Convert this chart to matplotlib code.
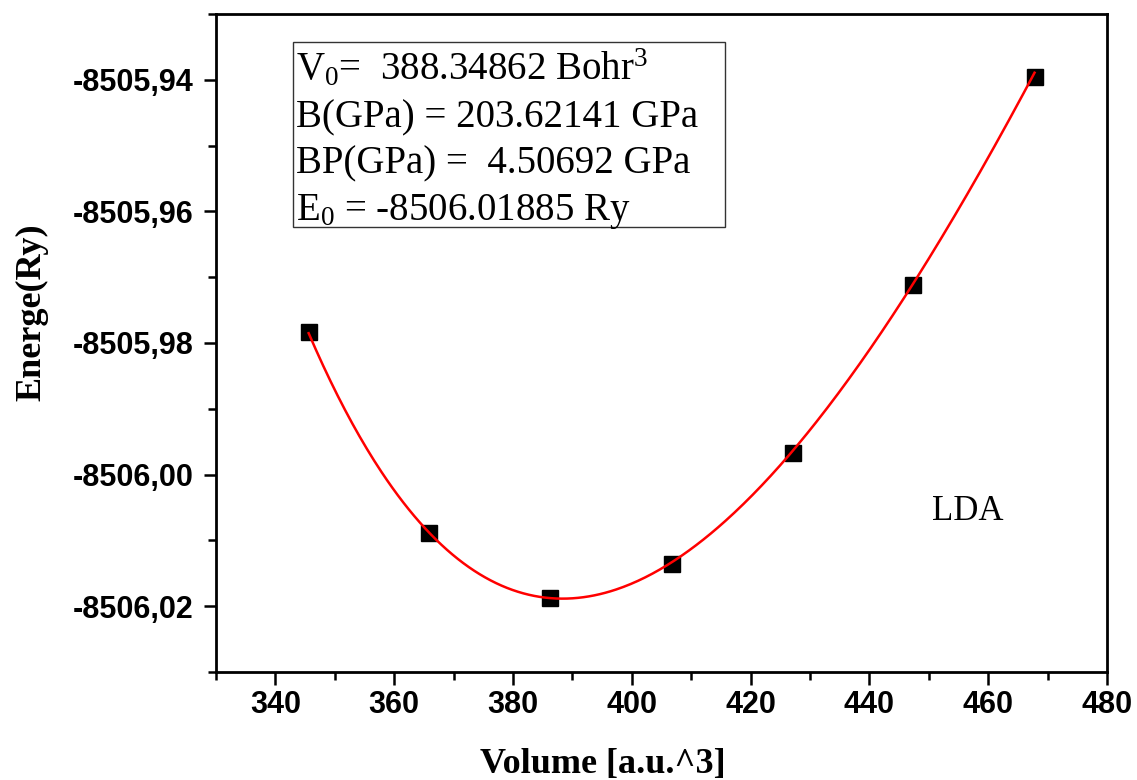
import numpy as np
import matplotlib
matplotlib.use("Agg")
import matplotlib.pyplot as plt
from matplotlib.patches import Rectangle
from matplotlib.ticker import FixedLocator, AutoMinorLocator, FuncFormatter

# ---- data ----
volume = [345.6, 365.9, 386.3, 406.7, 427.1, 447.4, 467.8]
energy = [-8505.9783, -8506.0089, -8506.01876, -8506.01354, -8505.99677, -8505.9712, -8505.9395]

# fit parameters shown in the chart (Birch-Murnaghan EOS)
V0 = 388.34862          # Bohr^3
B_GPa = 203.62141       # GPa
BP = 4.50692
E0 = -8506.01885        # Ry

xticks = [340, 360, 380, 400, 420, 440, 460, 480]
yticks = [-8506.02, -8506.00, -8505.98, -8505.96, -8505.94]

info_lines = [
    r"V$_\mathrm{0}$=  388.34862 Bohr$^\mathrm{3}$",
    "B(GPa) = 203.62141 GPa",
    "BP(GPa) =  4.50692 GPa",
    r"E$_\mathrm{0}$ = -8506.01885 Ry",
]

plt.rcParams['mathtext.fontset'] = 'custom'
plt.rcParams['mathtext.rm'] = 'Liberation Serif'
plt.rcParams['mathtext.it'] = 'Liberation Serif:italic'
plt.rcParams['mathtext.bf'] = 'Liberation Serif:bold'

W, H = 1137, 780
fig = plt.figure(figsize=(W / 100, H / 100), dpi=100)
L, R, T, Bt = 216, 1107, 14, 672
ax = fig.add_axes([L / W, 1 - Bt / H, (R - L) / W, (Bt - T) / H])

# Birch-Murnaghan fit curve from the stated parameters
B_ry = B_GPa / 14710.5  # Ry/Bohr^3
vv = np.linspace(min(volume), max(volume), 400)
eta = (V0 / vv) ** (2.0 / 3.0) - 1.0
ee = E0 + 9.0 * V0 * B_ry / 16.0 * (eta ** 3 * BP + eta ** 2 * (6.0 - 4.0 * (eta + 1.0)))

ax.plot(volume, energy, linestyle='none', marker='s', markersize=12,
        color='black', zorder=2)
ax.plot(vv, ee, color='#ff0000', linewidth=1.8, zorder=3)

ax.set_xlim(330, 480)
ax.set_ylim(-8506.03, -8505.93)

ax.xaxis.set_major_locator(FixedLocator(xticks))
ax.xaxis.set_minor_locator(AutoMinorLocator(2))
ax.yaxis.set_major_locator(FixedLocator(yticks))
ax.yaxis.set_minor_locator(AutoMinorLocator(2))
ax.yaxis.set_major_formatter(FuncFormatter(lambda v, p: f"{v:.2f}".replace('.', ',')))
ax.xaxis.set_major_formatter(FuncFormatter(lambda v, p: f"{v:.0f}"))

for s in ax.spines.values():
    s.set_linewidth(2.0)
ax.tick_params(which='major', direction='out', length=9, width=1.8,
               top=False, right=False, labelsize=22, pad=4)
ax.tick_params(which='minor', direction='out', length=5.5, width=1.8,
               top=False, right=False)
ax.tick_params(axis='y', which='major', pad=7)
for lab in ax.get_xticklabels() + ax.get_yticklabels():
    lab.set_fontfamily('Liberation Sans')
    lab.set_fontweight('bold')

ax.set_xlabel("Volume [a.u.^3]", fontsize=26, fontweight='bold',
              fontfamily='Liberation Serif', va='center')
ax.xaxis.set_label_coords((603 - L) / (R - L), (Bt - 765) / (Bt - T))
ax.set_ylabel("Energe(Ry)", fontsize=26, fontweight='bold',
              fontfamily='Liberation Serif', va='center', ha='center')
ax.yaxis.set_label_coords((32 - L) / (R - L), (Bt - 312) / (Bt - T))

def fx(px):
    return px / W

def fy(py):
    return 1 - py / H

# info box
fig.add_artist(Rectangle((fx(293), fy(227)), (725 - 293) / W, (227 - 42) / H,
                         transform=fig.transFigure, fill=False,
                         edgecolor='#333333', linewidth=1.0))
baselines = [80, 127, 173, 220]
for line, yb in zip(info_lines, baselines):
    fig.text(fx(296), fy(yb), line, fontsize=28, fontfamily='Liberation Serif',
             va='baseline', ha='left')

fig.text(fx(968), fy(512), "LDA", fontsize=25, fontfamily='Liberation Serif',
         va='center', ha='center')

fig.savefig("out.png", dpi=100)
